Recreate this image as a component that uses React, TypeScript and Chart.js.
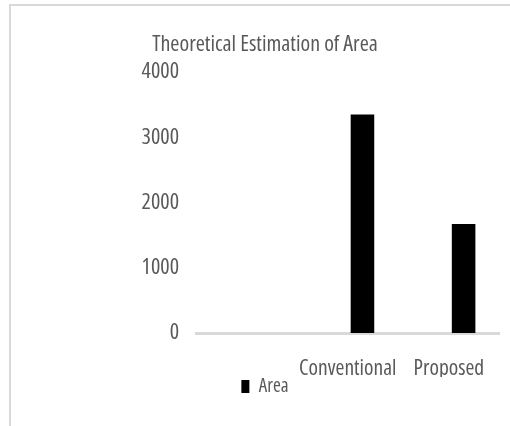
import React, { useEffect, useRef } from "react";
import { Chart, registerables } from "chart.js";

Chart.register(...registerables);

const categories = ["", "Conventional", "Proposed"];
const areaValues = [null, 3350, 1670];
const spacerValues = [null, null, null];
const yTicks = [0, 1000, 2000, 3000, 4000];
const titleText = "Theoretical Estimation of Area";
const seriesLabel = "Area";

const FAMILY = "'Open Sans', 'Roboto Condensed', sans-serif";
const STRETCH = "400 condensed";
const TEXT_COLOR = "#595959";

export default function App() {
  const ref = useRef<HTMLCanvasElement | null>(null);

  useEffect(() => {
    if (!ref.current) return;
    const chart = new Chart(ref.current, {
      type: "bar",
      data: {
        labels: categories,
        datasets: [
          {
            label: "spacer",
            data: spacerValues as any,
            backgroundColor: "rgba(0,0,0,0)",
            categoryPercentage: 0.5825,
            barPercentage: 0.8,
          },
          {
            label: seriesLabel,
            data: areaValues as any,
            backgroundColor: "#000000",
            borderWidth: 0,
            categoryPercentage: 0.5825,
            barPercentage: 0.8,
          },
        ],
      },
      options: {
        responsive: false,
        maintainAspectRatio: false,
        animation: false,
        devicePixelRatio: 1,
        layout: { padding: { left: 25, right: 5, top: 32, bottom: 20 } },
        plugins: {
          title: {
            display: true,
            text: titleText,
            color: TEXT_COLOR,
            font: { family: FAMILY, size: 22, weight: STRETCH as any },
            padding: { top: 0, bottom: 13.6 },
          },
          legend: {
            display: true,
            position: "bottom",
            labels: {
              filter: (item: any) => item.text === seriesLabel,
              boxWidth: 8,
              boxHeight: 13,
              padding: 0,
              color: TEXT_COLOR,
              font: { family: FAMILY, size: 19, weight: STRETCH as any },
            },
          },
          tooltip: { enabled: false },
        },
        scales: {
          x: {
            afterFit: (axis: any) => {
              axis.height = 44;
            },
            grid: { display: false, drawTicks: false },
            border: { display: true, color: "#d9d9d9", width: 3 },
            ticks: {
              color: TEXT_COLOR,
              padding: 25,
              autoSkip: false,
              maxRotation: 0,
              minRotation: 0,
              font: { family: FAMILY, size: 21.5, lineHeight: 1, weight: STRETCH as any },
            },
          },
          y: {
            min: 0,
            max: yTicks[yTicks.length - 1],
            afterBuildTicks: (axis: any) => {
              axis.ticks = yTicks.map((v) => ({ value: v }));
            },
            afterFit: (axis: any) => {
              axis.width = 171;
            },
            grid: { display: false, drawTicks: false },
            border: { display: false },
            ticks: {
              color: TEXT_COLOR,
              padding: 17,
              callback: (v: any) => String(v),
              font: { family: FAMILY, size: 22, weight: STRETCH as any },
            },
          },
        },
      },
    });
    return () => chart.destroy();
  }, []);

  return (
    <div style={{ position: "fixed", left: 0, top: 0, width: 510, height: 426, background: "#fff", overflow: "hidden" }}>
      <div
        style={{
          position: "absolute",
          left: 9,
          top: 4,
          width: 520,
          height: 440,
          borderTop: "2px solid #d9d9d9",
          borderLeft: "2px solid #d9d9d9",
        }}
      />
      <canvas ref={ref} width={510} height={426} style={{ position: "absolute", left: 0, top: 0, width: 510, height: 426 }} />
    </div>
  );
}
